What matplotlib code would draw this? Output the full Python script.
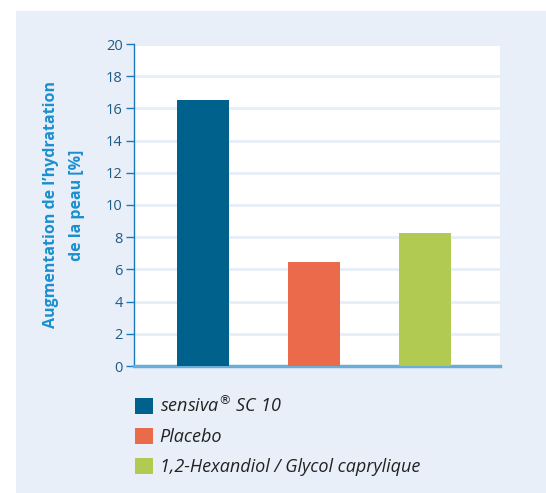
import matplotlib.pyplot as plt
from matplotlib.patches import Patch, Rectangle

plt.rcParams['font.family'] = ['Open Sans', 'DejaVu Sans']

# data
categories = ['sensiva® SC 10', 'Placebo', '1,2-Hexandiol / Glycol caprylique']
legend_labels = ['sensiva$^{®}$ SC 10', 'Placebo',
                 '1,2-Hexandiol / Glycol caprylique']
values = [16.5, 6.45, 8.25]
colors = ['#00628c', '#ec6a4c', '#b0ca52']
yticks = [0, 2, 4, 6, 8, 10, 12, 14, 16, 18, 20]

W, H = 546, 493
fig = plt.figure(figsize=(W / 100, H / 100), dpi=100)
fig.patch.set_facecolor('white')

# light blue panel behind everything
fig.patches.append(Rectangle((16 / W, 0), 1 - 16 / W, (H - 11) / H,
                             transform=fig.transFigure, facecolor='#e9eff8',
                             edgecolor='none', zorder=-10))

ax = fig.add_axes([134 / W, (H - 366) / H, 366 / W, 322 / H])
ax.set_zorder(2)
ax.set_facecolor('white')

x = list(range(len(values)))
ax.bar(x, values, width=0.47, color=colors, zorder=3)

ax.set_xlim(-0.62, 2.68)
ax.set_ylim(0, 20)
ax.set_yticks(yticks)
ax.set_xticks([])
ax.yaxis.grid(True, color='#e6eef7', linewidth=2, zorder=0)
ax.set_axisbelow(True)

for s in ['top', 'right']:
    ax.spines[s].set_visible(False)
ax.spines['left'].set_color('#1a7abf')
ax.spines['left'].set_linewidth(1)
ax.spines['bottom'].set_color('#6aaed6')
ax.spines['bottom'].set_linewidth(2.5)
ax.tick_params(axis='y', length=6, width=1, color='#1a7abf',
               labelcolor='#1f5c85', labelsize=10.5, pad=2)

fig.text(64 / W, (H - 205) / H, "Augmentation de l’hydratation\nde la peau [%]",
         rotation=90, ha='center', va='center', multialignment='center',
         fontsize=11.5, fontweight='bold', color='#1b8fd0', linespacing=1.8,
         zorder=5)

handles = [Patch(facecolor=c, edgecolor='none') for c in colors]
fig.legend(handles, legend_labels, loc='upper left',
           bbox_to_anchor=(128 / W, (H - 388) / H), frameon=False,
           prop={'style': 'italic', 'size': 13}, labelcolor='#222222',
           handlelength=1.0, handleheight=1.0, handletextpad=0.35,
           labelspacing=0.65, borderaxespad=0)

plt.savefig('out.png', dpi=100)
